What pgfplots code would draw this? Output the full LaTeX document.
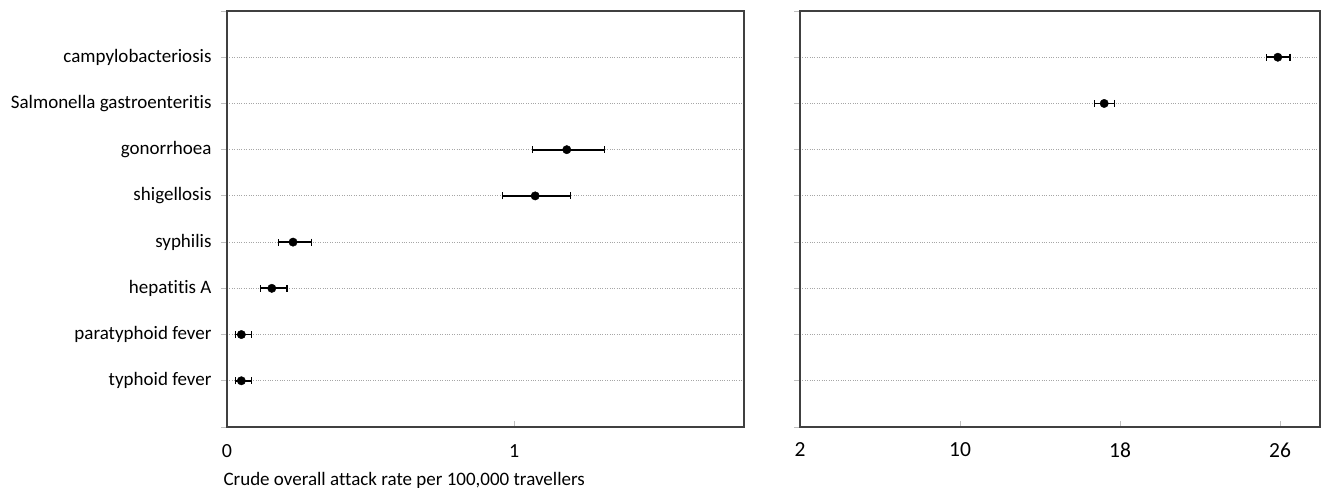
\documentclass[border=0pt]{standalone}
\usepackage{pgfplots}
\pgfplotsset{compat=1.18}
\usepackage{pgfplotstable}
\usepackage{fontspec}
\setmainfont[Ligatures=NoCommon]{Carlito}
\definecolor{frame}{HTML}{404040}
\definecolor{gridc}{HTML}{A6A6A6}
\definecolor{tickc}{HTML}{BFBFBF}

\pgfplotstableread{
x y ep em
1.183 6 0.131 0.118
1.073 5 0.124 0.113
0.230 4 0.063 0.050
0.156 3 0.053 0.040
0.050 2 0.035 0.021
0.050 1 0.035 0.021
}\leftdata

\pgfplotstableread{
x y ep em
25.89 8 0.61 0.57
17.21 7 0.52 0.48
}\rightdata

\pgfplotsset{
  panel/.style={
    scale only axis,
    height=416bp,
    ymin=0, ymax=9,
    ytick={0,...,9},
    axis line style={draw=frame, line width=1.6bp},
    ymajorgrids,
    grid style={gridc, dotted, line width=0.8bp},
    y tick style={draw=tickc, line width=0.8bp},
    x tick style={draw=tickc, line width=0.8bp},
    xtick align=inside,
    ytick align=outside,
    major tick length=6bp,
    xtick pos=bottom,
    ytick pos=left,
    /pgf/number format/assume math mode=true,
    clip=false,
  },
  pts/.style={
    only marks,
    mark=*,
    mark size=4.2bp,
    mark options={fill=black, draw=black},
    error bars/.cd,
      x dir=both, x explicit,
      error bar style={line width=1.8bp, black},
      error mark options={rotate=90, mark size=3.5bp, line width=1.2bp, black},
  },
}

\begin{document}
\begin{tikzpicture}
\path[use as bounding box] (-227bp,-61bp) rectangle (1094bp,427bp);
\begin{axis}[
  panel,
  at={(0bp,0bp)}, anchor=south west,
  width=517bp,
  xmin=0, xmax=1.8,
  xtick={0,1},
  yticklabels={,typhoid fever,paratyphoid fever,hepatitis A,syphilis,shigellosis,gonorrhoea,Salmonella gastroenteritis,campylobacteriosis,},
  yticklabel style={font=\fontsize{19bp}{21bp}\selectfont, xshift=-6bp},
  xticklabel style={font=\fontsize{20bp}{22bp}\selectfont, yshift=-14bp},
  xlabel={Crude overall attack rate per 100,000 travellers},
  xlabel style={at={(axis description cs:0,0)}, anchor=north west, xshift=-7bp, yshift=-42bp, font=\fontsize{19bp}{21bp}\selectfont},
]
\addplot[pts] table[x=x, y=y, x error plus=ep, x error minus=em] {\leftdata};
\end{axis}
\begin{axis}[
  panel,
  at={(573bp,0bp)}, anchor=south west,
  width=520bp,
  xmin=2, xmax=28,
  xtick={2,10,18,26},
  yticklabels={},
  xticklabel style={font=\fontsize{21.5bp}{23bp}\selectfont, yshift=-12bp},
]
\addplot[pts] table[x=x, y=y, x error plus=ep, x error minus=em] {\rightdata};
\end{axis}
\end{tikzpicture}
\end{document}
